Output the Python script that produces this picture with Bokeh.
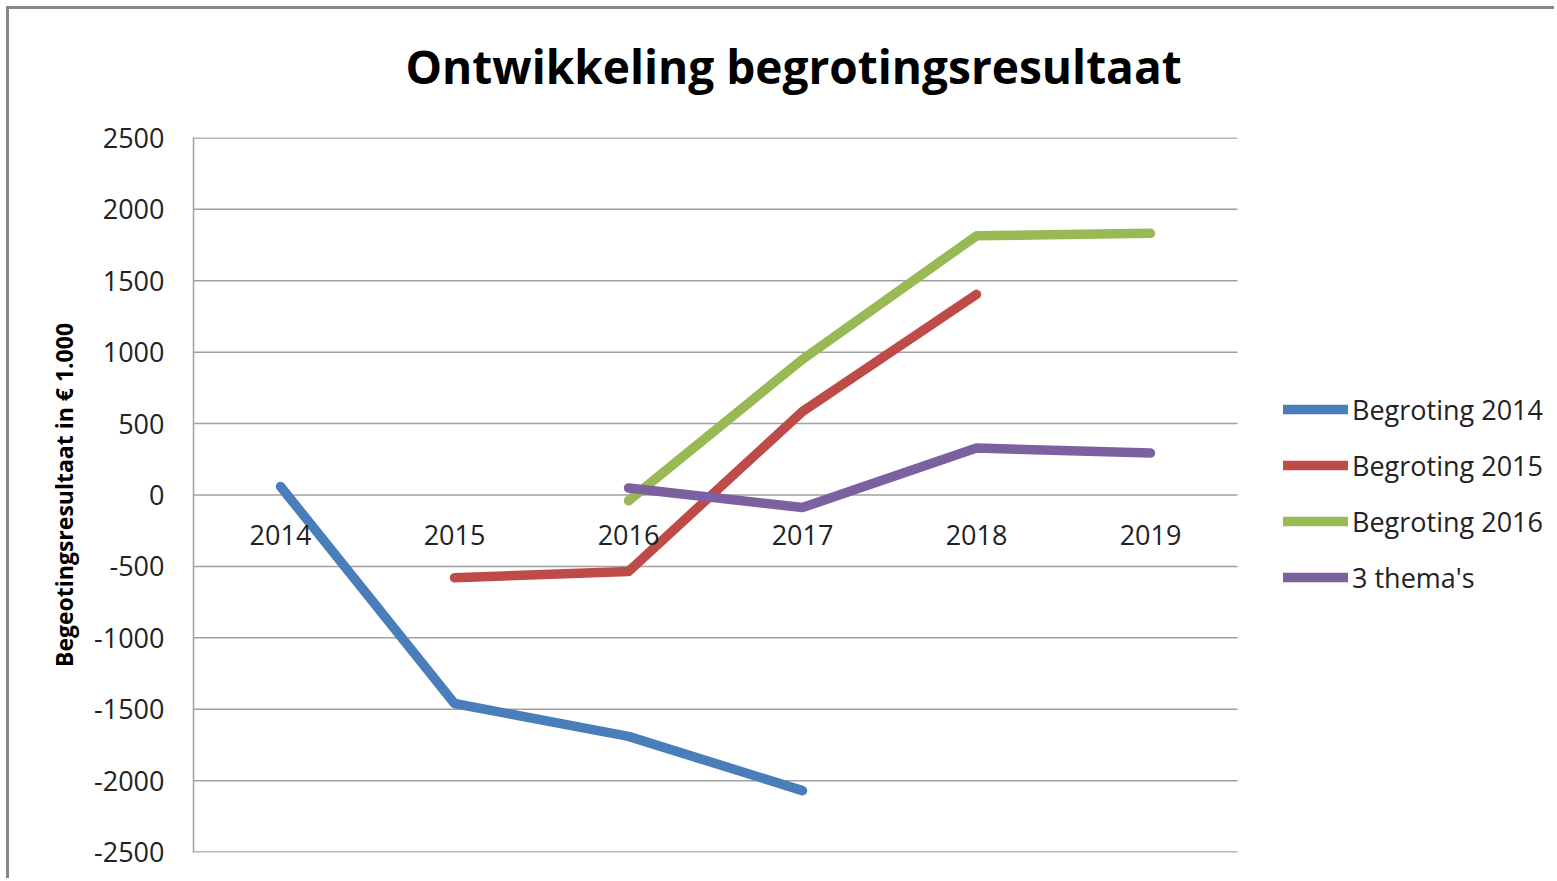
from bokeh.plotting import figure
from bokeh.models import (Range1d, Legend, LegendItem, FixedTicker,
                          PrintfTickFormatter, Title)
from bokeh.embed import file_html
from bokeh.resources import INLINE

# ---- data ----
years = ["2014", "2015", "2016", "2017", "2018", "2019"]
begroting_2014_x = ["2014", "2015", "2016", "2017"]
begroting_2014_y = [60, -1460, -1690, -2070]
begroting_2015_x = ["2015", "2016", "2017", "2018"]
begroting_2015_y = [-580, -535, 585, 1405]
begroting_2016_x = ["2016", "2017", "2018", "2019"]
begroting_2016_y = [-40, 950, 1815, 1832]
thema_x = ["2016", "2017", "2018", "2019"]
thema_y = [49, -88, 329, 294]
y_ticks = [-2500, -2000, -1500, -1000, -500, 0, 500, 1000, 1500, 2000, 2500]
series_names = ["Begroting 2014", "Begroting 2015", "Begroting 2016", "3 thema's"]
colors = ["#4A7EBB", "#BE4B48", "#98B954", "#7D60A0"]

FONT = "Open Sans"
GRID = "#A0A0A0"

# category positions (centre of each category slot)
pos = {yr: i + 0.5 for i, yr in enumerate(years)}
n_cat = len(years)

p = figure(width=1548, height=872, x_range=Range1d(0, 7.839), y_range=Range1d(-2503, 2503),
           output_backend="svg", toolbar_location=None, title=None,
           min_border_left=184, min_border_right=0, min_border_top=128, min_border_bottom=29)
p.outline_line_color = None
p.background_fill_color = "white"
p.border_fill_color = "white"
p.styles = {"margin-left": "6px", "margin-top": "6px",
            "border-left": "3px solid #878787", "border-top": "3px solid #878787"}

# white spacer next to the plot area, then the visible title above it
spacer = Title(text=".", text_font=FONT, text_font_size="10px", text_color="white", standoff=31)
main_title = Title(text="Ontwikkeling begrotingsresultaat", text_font=FONT,
                   text_font_size="46px", text_font_style="bold", text_color="black",
                   align="left", offset=212, standoff=0)
p.add_layout(spacer, "above")
p.add_layout(main_title, "above")

# y axis
yax = p.yaxis[0]
yax.ticker = FixedTicker(ticks=y_ticks)
yax.formatter = PrintfTickFormatter(format="%d")
yax.axis_line_color = GRID
yax.axis_line_width = 1.5
yax.major_tick_line_color = None
yax.minor_tick_line_color = None
yax.major_tick_out = 0
yax.major_tick_in = 0
yax.major_label_standoff = 29
yax.major_label_text_font = FONT
yax.major_label_text_font_size = "27px"
yax.major_label_text_color = "#222222"
yax.axis_label = "Begeotingsresultaat in € 1.000"
yax.axis_label_text_font = FONT
yax.axis_label_text_font_size = "23px"
yax.axis_label_text_font_style = "bold"
yax.axis_label_text_color = "black"
yax.axis_label_standoff = 11

# x axis (category labels) at zero
xax = p.xaxis[0]
xax.fixed_location = 0
xax.ticker = FixedTicker(ticks=[pos[yr] for yr in years])
xax.major_label_overrides = {pos[yr]: yr for yr in years}
xax.axis_line_color = None
xax.major_tick_line_color = None
xax.minor_tick_line_color = None
xax.major_tick_out = 0
xax.major_tick_in = 0
xax.major_label_standoff = 30
xax.major_label_text_font = FONT
xax.major_label_text_font_size = "27px"
xax.major_label_text_color = "#222222"

p.xgrid.grid_line_color = None
p.ygrid.grid_line_color = None

# horizontal gridlines across the category area only
p.segment(x0=[0] * len(y_ticks), x1=[n_cat] * len(y_ticks), y0=y_ticks, y1=y_ticks,
          line_color=GRID, line_width=1.5)

xs = [begroting_2014_x, begroting_2015_x, begroting_2016_x, thema_x]
ys = [begroting_2014_y, begroting_2015_y, begroting_2016_y, thema_y]
items = []
for name, x, y, c in zip(series_names, xs, ys, colors):
    r = p.line([pos[v] for v in x], y, line_color=c, line_width=9.5,
               line_cap="round", line_join="round")
    items.append(LegendItem(label=name, renderers=[r]))

legend = Legend(items=items, location=(1090, 255), orientation="vertical")
legend.glyph_width = 65
legend.glyph_height = 40
legend.label_height = 40
legend.spacing = 16
legend.label_standoff = 4
legend.padding = 0
legend.margin = 0
legend.border_line_color = None
legend.background_fill_alpha = 0
legend.label_text_font = FONT
legend.label_text_font_size = "27px"
legend.label_text_color = "#222222"
p.add_layout(legend, "center")

open("out.html", "w").write(file_html(p, INLINE))
